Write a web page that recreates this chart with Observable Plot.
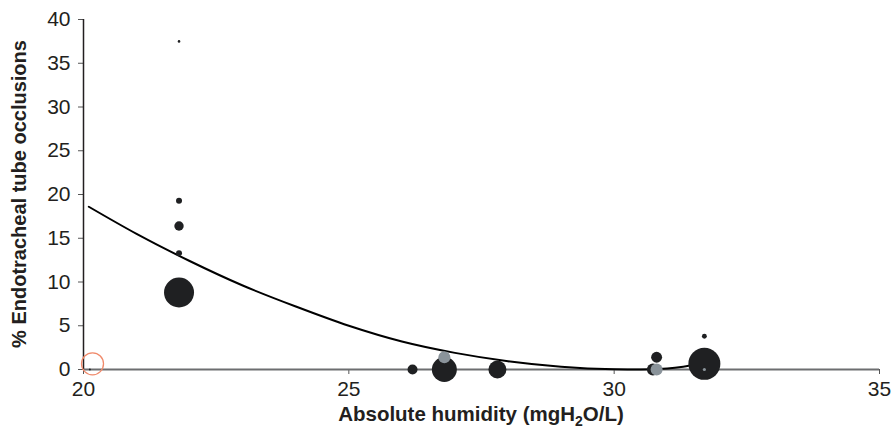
<!DOCTYPE html>
<html>
<head>
<meta charset="utf-8">
<script src="https://cdn.jsdelivr.net/npm/d3@7"></script>
<script src="https://cdn.jsdelivr.net/npm/@observablehq/plot@0.6"></script>
<style>
  html, body { margin: 0; padding: 0; background: #fff; }
  #chart svg { display: block; }
</style>
</head>
<body>
<div id="chart"></div>
<script>
// Black study points (absolute humidity, % occlusions, relative weight)
const blackX = [21.8, 21.8, 21.8, 21.8, 21.8, 20.12, 26.2, 26.8, 27.8, 30.73, 30.8, 31.7, 31.7];
const blackY = [37.5, 19.3, 16.4, 13.3, 8.8, 0, 0, 0, 0, 0, 1.4, 0.65, 3.8];
const blackW = [1.7, 9, 22, 9, 225, 1, 25, 156, 81, 36, 30, 256, 6];
// Gray study points
const grayX = [26.8, 30.8, 31.7];
const grayY = [1.4, 0, 0];
const grayW = [36, 36, 2.5];
// Trend line
const trendX = [20.1, 21, 22, 23, 24, 25, 26, 27, 28, 29, 30, 30.5, 31, 31.3, 31.6];
const trendY = [18.6, 15.5, 12.4, 9.6, 7.2, 5.0, 3.2, 1.9, 0.95, 0.32, 0.03, 0.0, 0.12, 0.32, 0.62];
// Highlighted point
const markX = [20.17];
const markY = [0.65];
// Ticks
const xTicks = [20, 25, 30, 35];
const yTicks = [0, 5, 10, 15, 20, 25, 30, 35, 40];

const black = blackX.map((x, i) => ({x, y: blackY[i], w: blackW[i]}));
const gray = grayX.map((x, i) => ({x, y: grayY[i], w: grayW[i]}));
const trend = trendX.map((x, i) => ({x, y: trendY[i]}));
const mark = markX.map((x, i) => ({x, y: markY[i]}));

const plot = Plot.plot({
  width: 893,
  height: 434,
  marginLeft: 83,
  marginRight: 14,
  marginTop: 19,
  marginBottom: 65,
  style: {fontFamily: "'Liberation Sans', Arial, sans-serif", fontSize: "21px", color: "#231f20", background: "#fff"},
  x: {domain: [20, 35]},
  y: {domain: [0, 40]},
  r: {type: "sqrt", domain: [0, 256], range: [0, 16]},
  marks: [
    Plot.axisX({ticks: xTicks, tickSize: 5, tickPadding: 7, label: null, stroke: "#555", fontSize: 21}),
    Plot.axisY({ticks: yTicks, tickSize: 5, tickPadding: 8, label: null, stroke: "#555", fontSize: 21}),
    Plot.ruleY([0], {stroke: "#6d6e70", strokeWidth: 2}),
    Plot.ruleX([20], {stroke: "#231f20", strokeWidth: 1.5}),
    Plot.line(trend, {x: "x", y: "y", curve: "monotone-x", stroke: "#000", strokeWidth: 2}),
    Plot.dot(black, {x: "x", y: "y", r: "w", fill: "#1f2022", stroke: "none"}),
    Plot.dot(gray, {x: "x", y: "y", r: "w", fill: "#8a939a", stroke: "none"}),
    Plot.dot(mark, {x: "x", y: "y", r: 11, fill: "none", stroke: "#f08a6b", strokeWidth: 1.3})
  ]
});

document.getElementById("chart").appendChild(plot);

const svg = d3.select(plot);
// y-axis title
svg.append("text")
  .attr("transform", "translate(21,194) rotate(-90)")
  .attr("text-anchor", "middle")
  .attr("dominant-baseline", "middle")
  .attr("font-family", "'Liberation Sans', Arial, sans-serif")
  .attr("font-weight", "bold")
  .attr("font-size", 20)
  .attr("fill", "#231f20")
  .text("% Endotracheal tube occlusions");
// x-axis title with subscript
const xt = svg.append("text")
  .attr("x", 481)
  .attr("y", 421)
  .attr("text-anchor", "middle")
  .attr("font-family", "'Liberation Sans', Arial, sans-serif")
  .attr("font-weight", "bold")
  .attr("font-size", 20.5)
  .attr("fill", "#231f20");
xt.append("tspan").text("Absolute humidity (mgH");
xt.append("tspan").attr("font-size", 14).attr("dy", 5).text("2");
xt.append("tspan").attr("dy", -5).text("O/L)");
</script>
</body>
</html>
